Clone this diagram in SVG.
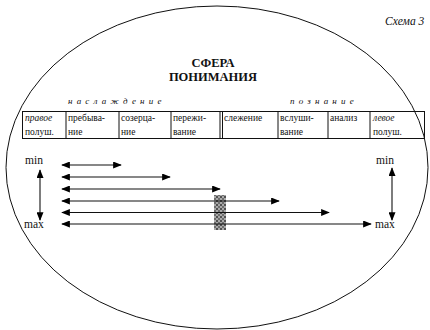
<svg xmlns="http://www.w3.org/2000/svg" width="430" height="330" viewBox="0 0 430 330">
<defs>
<marker id="ah" viewBox="0 0 10 8" refX="9" refY="4" markerWidth="9" markerHeight="7" orient="auto-start-reverse" markerUnits="userSpaceOnUse">
<path d="M0,0 L10,4 L0,8 Z" fill="#000"/>
</marker>
<pattern id="blobfill" width="4" height="4" patternUnits="userSpaceOnUse">
<rect width="4" height="4" fill="#9a9a9a"/>
<rect width="2" height="2" fill="#333"/>
<rect x="2" y="2" width="2" height="2" fill="#555"/>
</pattern>
</defs>
<style>
text{fill:#111;font-family:"Liberation Serif","Times New Roman",serif}
.cell{font-size:9.5px}
.it{font-style:italic}
.sp{font-style:italic;font-size:9px;letter-spacing:4.2px}
.mm{font-size:11.5px}
.ttl{font-size:12.5px;font-weight:bold}
.ln{stroke:#111;stroke-width:1;fill:none}
.ar{stroke:#111;stroke-width:1.1;fill:none;marker-start:url(#ah);marker-end:url(#ah)}
</style>
<rect width="430" height="330" fill="#fff"/>
<g id="sphere">
<ellipse cx="217" cy="167.5" rx="211" ry="161.5" class="ln" stroke-width="1.1"/>
</g>
<g id="caption"><text class="it" x="385" y="25" font-size="11.5">Схема 3</text></g>
<g id="title">
<text class="ttl" x="213" y="67" text-anchor="middle">СФЕРА</text>
<text class="ttl" x="213" y="81" text-anchor="middle">ПОНИМАНИЯ</text>
</g>
<g id="groups">
<text class="sp" x="68" y="104">наслаждение</text>
<text class="sp" x="290" y="104">познание</text>
</g>
<g id="table">
<rect x="22.5" y="111.5" width="402" height="27" class="ln"/>
<path class="ln" d="M66,111.5V138.5 M119,111.5V138.5 M171,111.5V138.5 M220,111.5V138.5 M222.5,111.5V138.5 M278,111.5V138.5 M328,111.5V138.5 M370,111.5V138.5" stroke-width="0.8"/>
<g id="c1"><text class="cell it" x="25" y="121">правое</text><text class="cell" x="25" y="135">полуш.</text></g>
<g id="c2"><text class="cell" x="68" y="121">пребыва-</text><text class="cell" x="68" y="135">ние</text></g>
<g id="c3"><text class="cell" x="121" y="121">созерца-</text><text class="cell" x="121" y="135">ние</text></g>
<g id="c4"><text class="cell" x="173" y="121">пережи-</text><text class="cell" x="173" y="135">вание</text></g>
<g id="c5"><text class="cell" x="224" y="121">слежение</text></g>
<g id="c6"><text class="cell" x="280" y="121">вслуши-</text><text class="cell" x="280" y="135">вание</text></g>
<g id="c7"><text class="cell" x="330" y="121">анализ</text></g>
<g id="c8"><text class="cell it" x="373" y="121">левое</text><text class="cell" x="373" y="135">полуш.</text></g>
</g>
<g id="scale-left">
<text class="mm" x="25" y="164">min</text>
<text class="mm" x="24" y="228">max</text>
</g>
<g id="scale-right">
<text class="mm" x="376" y="164">min</text>
<text class="mm" x="375" y="228">max</text>
</g>
<g id="blob"><rect x="214" y="195" width="12" height="35" fill="url(#blobfill)" opacity="0.85"/></g>
<g id="connectors">
<line class="ar" x1="40" y1="170" x2="40" y2="220"/>
<line class="ar" x1="392" y1="168" x2="392" y2="220"/>
<line class="ar" x1="62" y1="165" x2="121" y2="165"/>
<line class="ar" x1="62" y1="177" x2="170" y2="177"/>
<line class="ar" x1="62" y1="189" x2="220" y2="189"/>
<line class="ar" x1="62" y1="201" x2="279" y2="201"/>
<line class="ar" x1="62" y1="212.5" x2="329" y2="212.5"/>
<line class="ar" x1="62" y1="224" x2="371" y2="224"/>
</g>
</svg>
